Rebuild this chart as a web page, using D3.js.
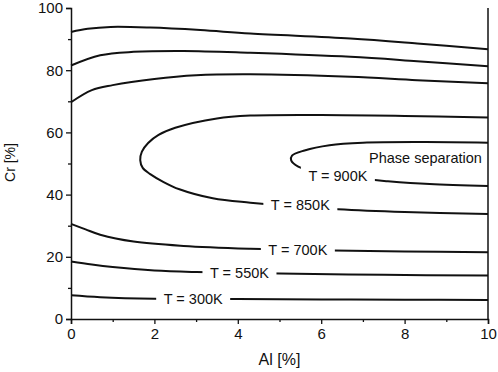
<!DOCTYPE html>
<html>
<head>
<meta charset="utf-8">
<script src="https://cdn.jsdelivr.net/npm/d3@7"></script>
<style>
  body { margin: 0; background: #fff; }
  text { font-family: "Liberation Sans", Arial, sans-serif; fill: #111; }
</style>
</head>
<body>
<div id="main"></div>
<script>
// --- data (Al %, Cr %)
const xTicks = [0, 2, 4, 6, 8, 10];
const yTicks = [0, 20, 40, 60, 80, 100];

// open miscibility-gap branches
const lower300 = [[0, 7.6], [0.7, 7.0], [2, 6.5], [4, 6.4], [6, 6.3], [8, 6.2], [10, 6.1]];
const upper300 = [[0, 92.3], [0.4, 93.3], [0.95, 93.9], [1.9, 93.7], [3.1, 92.9], [4.3, 91.8], [6.7, 90.2], [8.3, 88.6], [10, 86.7]];
const lower550 = [[0, 18.5], [0.5, 17.5], [1, 16.7], [2, 15.6], [3, 15.1], [5, 14.6], [7.5, 14.2], [10, 14.0]];
const upper550 = [[0, 81.5], [0.7, 84.8], [1.5, 85.9], [2.7, 86.2], [4.3, 85.6], [6.7, 84.3], [8.3, 82.9], [10, 81.3]];
const lower700 = [[0, 30.6], [0.35, 28.8], [0.7, 27.1], [1.5, 24.9], [2.7, 23.5], [4.3, 22.6], [6.3, 22.0], [8, 21.7], [10, 21.5]];
const upper700 = [[0, 69.7], [0.5, 73.6], [1, 75.2], [2, 77.2], [3, 78.4], [4.3, 78.7], [6.7, 77.9], [8.3, 76.8], [10, 75.8]];
// closed (C-shaped) gaps
const loop850 = [[10, 64.8], [8, 65.3], [6, 65.6], [4.3, 65.4], [3.5, 64.5], [2.5, 61.5], [2.1, 59.2], [1.85, 56.6], [1.7, 53.8], [1.66, 51.1],
  [1.72, 48.6], [1.9, 46.6], [2.2, 44.2], [2.6, 41.7], [3.4, 38.8], [4.3, 37.4], [6.4, 35.3], [8, 34.4], [10, 33.8]];
const loop900 = [[10, 56.7], [8.5, 56.9], [7, 56.7], [6.2, 55.9], [5.6, 54.2], [5.3, 52.5], [5.28, 51.0], [5.45, 49.0],
  [6.0, 47.0], [6.8, 45.3], [7.6, 44.3], [8.6, 43.4], [10, 42.8]];

const curves = [lower300, upper300, lower550, upper550, lower700, upper700, loop850, loop900];

// line labels: text and where they sit (data units)
const labelText = ['T = 300K', 'T = 550K', 'T = 700K', 'T = 850K', 'T = 900K'];
const labelX = [2.93, 4.04, 5.44, 5.5, 6.4];
const labelY = [6.5, 14.9, 22.3, 36.7, 46.2];
const noteText = 'Phase separation';
const noteX = 8.5, noteY = 51.9;

// --- layout
const width = 498, height = 372;
const margin = { top: 8, right: 10, bottom: 53, left: 71 };
const w = width - margin.left - margin.right;
const h = height - margin.top - margin.bottom;

const svg = d3.select('#main').append('svg')
  .attr('width', width)
  .attr('height', height);

const g = svg.append('g')
  .attr('transform', `translate(${margin.left},${margin.top})`);

const xScale = d3.scaleLinear().domain([0, 10]).range([0, w]);
const yScale = d3.scaleLinear().domain([0, 100]).range([h, 0]);

const line = d3.line()
  .x(d => xScale(d[0]))
  .y(d => yScale(d[1]))
  .curve(d3.curveCatmullRom.alpha(0.5));

g.selectAll('path.curve')
  .data(curves)
  .enter()
  .append('path')
  .attr('class', 'curve')
  .attr('fill', 'none')
  .attr('stroke', '#111')
  .attr('stroke-width', 2)
  .attr('d', line);

// labels knock a gap into their line
const labels = g.selectAll('g.lbl')
  .data(labelText)
  .enter()
  .append('g')
  .attr('class', 'lbl')
  .attr('transform', (d, i) => `translate(${xScale(labelX[i])},${yScale(labelY[i])})`);

labels.append('rect')
  .attr('x', -37)
  .attr('y', -9)
  .attr('width', 74)
  .attr('height', 18)
  .attr('fill', '#fff');

labels.append('text')
  .attr('text-anchor', 'middle')
  .attr('dy', '0.36em')
  .style('font-size', '14.5px')
  .text(d => d);

g.append('text')
  .attr('x', xScale(noteX))
  .attr('y', yScale(noteY))
  .attr('text-anchor', 'middle')
  .attr('dy', '0.36em')
  .style('font-size', '14.5px')
  .text(noteText);

// --- axes
const xAxis = g.append('g')
  .attr('transform', `translate(0,${h})`)
  .call(d3.axisBottom(xScale).tickValues(xTicks).tickSize(5).tickPadding(4));
const yAxis = g.append('g')
  .call(d3.axisLeft(yScale).tickValues(yTicks).tickSize(5).tickPadding(3));

// minor ticks
g.append('g')
  .attr('transform', `translate(0,${h})`)
  .call(d3.axisBottom(xScale).tickValues(d3.range(1, 10, 2)).tickSize(3).tickFormat(''))
  .select('.domain').remove();
g.append('g')
  .call(d3.axisLeft(yScale).tickValues(d3.range(10, 100, 20)).tickSize(3).tickFormat(''))
  .select('.domain').remove();

[xAxis, yAxis].forEach(a => {
  a.select('.domain').attr('stroke', '#111').attr('stroke-width', 1.5);
  a.selectAll('text').style('font-size', '15px').style('font-family', '"Liberation Sans", Arial, sans-serif').attr('fill', '#111');
});
g.selectAll('.tick line').attr('stroke', '#111').attr('stroke-width', 1.3);

// right frame line
g.append('line')
  .attr('x1', w).attr('x2', w)
  .attr('y1', 0).attr('y2', h)
  .attr('stroke', '#111')
  .attr('stroke-width', 1.5);

// axis titles
svg.append('text')
  .attr('x', margin.left + w / 2)
  .attr('y', 365)
  .attr('text-anchor', 'middle')
  .style('font-size', '16px')
  .text('Al [%]');

svg.append('text')
  .attr('transform', 'translate(14.5,162.5) rotate(-90)')
  .attr('text-anchor', 'middle')
  .style('font-size', '14px')
  .text('Cr [%]');
</script>
</body>
</html>
